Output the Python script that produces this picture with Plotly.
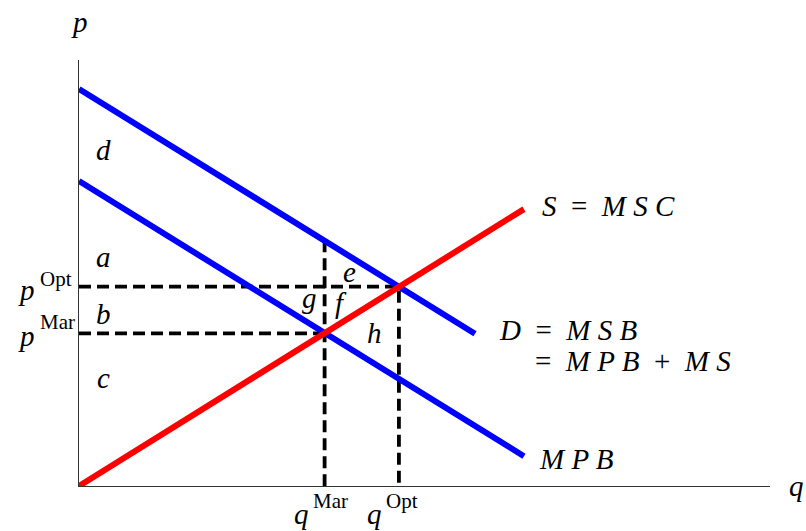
import plotly.graph_objects as go

# Curve endpoints (quantity, price)
supply_q = [0.0, 10.0]
supply_p = [0.0, 6.22]
msb_q = [0.0, 8.9]
msb_p = [8.92, 3.42]
mpb_q = [0.0, 10.0]
mpb_p = [6.85, 0.67]

# Equilibria
q_opt, p_opt = 7.19, 4.48
q_mar, p_mar = 5.52, 3.43
msb_at_q_mar = 5.52

X_MAX, Y_MAX = 15.53, 9.57
FONT = "Liberation Serif"

fig = go.Figure()

dash_style = dict(color="black", width=3.8, dash="12px,6px")
fig.add_trace(go.Scatter(x=[0, q_opt, q_opt], y=[p_opt, p_opt, 0], mode="lines",
                         line=dash_style, hoverinfo="skip"))
fig.add_trace(go.Scatter(x=[0, q_mar], y=[p_mar, p_mar], mode="lines",
                         line=dash_style, hoverinfo="skip"))
fig.add_trace(go.Scatter(x=[q_mar, q_mar], y=[msb_at_q_mar, 0], mode="lines",
                         line=dash_style, hoverinfo="skip"))

fig.add_trace(go.Scatter(x=msb_q, y=msb_p, mode="lines",
                         line=dict(color="#0000ff", width=6), hoverinfo="skip"))
fig.add_trace(go.Scatter(x=mpb_q, y=mpb_p, mode="lines",
                         line=dict(color="#0000ff", width=6), hoverinfo="skip"))
fig.add_trace(go.Scatter(x=supply_q, y=supply_p, mode="lines",
                         line=dict(color="#ff0000", width=6), hoverinfo="skip"))


def label(text, x, y, size=29, xanchor="center", yanchor="middle", dx=0, dy=0):
    # positions given in data units, placed in paper space so text outside the axes still shows
    fig.add_annotation(x=x / X_MAX, y=y / Y_MAX, xref="paper", yref="paper",
                       xshift=dx, yshift=dy,
                       text=text, showarrow=False, xanchor=xanchor, yanchor=yanchor,
                       font=dict(family=FONT, size=size, color="black"))


# Area letters
for t, x, y in [("d", 0.56, 7.55), ("a", 0.56, 5.15), ("b", 0.56, 3.87), ("c", 0.56, 2.43),
                ("e", 6.09, 4.81), ("g", 5.19, 4.22), ("f", 5.89, 4.11), ("h", 6.65, 3.44)]:
    label(f"<i>{t}</i>", x, y)

# Curve labels
label("<i>S</i>  =  <i>M S C</i>", 10.36, 6.29, xanchor="left")
label("<i>D</i>  =  <i>M S B</i>", 9.39, 3.51, xanchor="left")
label("=  <i>M P B</i>  +  <i>M S</i>", 10.2, 2.81, xanchor="left")
label("<i>M P B</i>", 10.29, 0.61, xanchor="left")

# Axis names
label("<i>p</i>", 0.0, 10.43)
label("<i>q</i>", 16.13, 0.0)

# Price markers: italic variable with an upright tag raised beside it
SUP = 21
for tag, pv, dy_var, dy_tag in [("Opt", p_opt, -3, 8), ("Mar", p_mar, -3, 11)]:
    label("<i>p</i>", 0, pv, xanchor="right", dx=-42, dy=dy_var)
    label(tag, 0, pv, size=SUP, xanchor="left", dx=-41, dy=dy_tag)

# Quantity markers
for tag, qv, dx_var, dx_tag in [("Mar", q_mar, -14, -14), ("Opt", q_opt, -15, -15)]:
    label("<i>q</i>", qv, 0, xanchor="right", dx=dx_var, dy=-28)
    label(tag, qv, 0, size=SUP, xanchor="left", dx=dx_tag, dy=-15)

axis_common = dict(showgrid=False, zeroline=False, showticklabels=False, ticks="",
                   showline=True, linecolor="#333333", linewidth=1.2)
fig.update_layout(
    width=806, height=531,
    margin=dict(l=79, r=36, t=60, b=45),
    paper_bgcolor="white", plot_bgcolor="white",
    showlegend=False,
    xaxis=dict(range=[0, X_MAX], **axis_common),
    yaxis=dict(range=[0, Y_MAX], **axis_common),
)

fig.write_html("out.html")
